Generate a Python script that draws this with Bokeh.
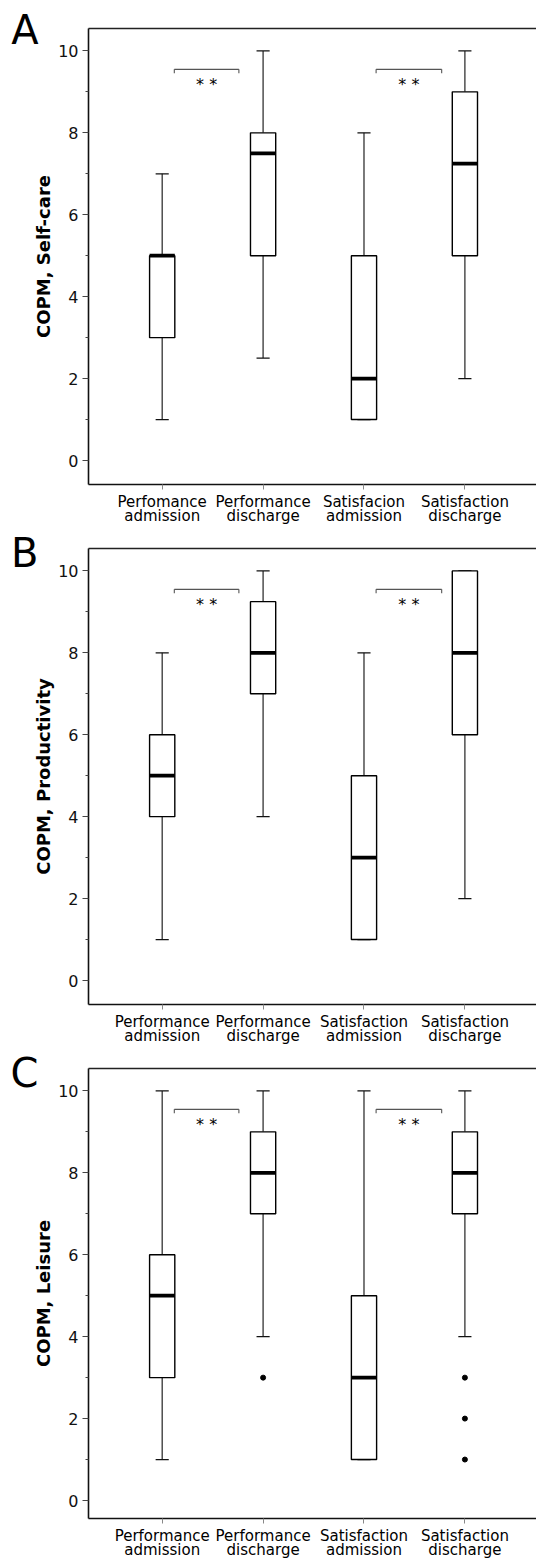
from bokeh.plotting import figure
from bokeh.layouts import column
from bokeh.models import Range1d, FixedTicker, LinearAxis, ColumnDataSource
from bokeh.embed import file_html
from bokeh.resources import INLINE
from bokeh.core.properties import value

# ---------------- data ----------------
positions = [1, 2, 3, 4]
labels_top_A = ["Perfomance", "Performance", "Satisfacion", "Satisfaction"]
labels_top_BC = ["Performance", "Performance", "Satisfaction", "Satisfaction"]
labels_bottom = ["admission", "discharge", "admission", "discharge"]

# Panel A: Self-care
a_low = [1, 2.5, 1, 2]
a_q1 = [3, 5, 1, 5]
a_med = [5, 7.5, 2, 7.25]
a_q3 = [5, 8, 5, 9]
a_high = [7, 10, 8, 10]

# Panel B: Productivity
b_low = [1, 4, 1, 2]
b_q1 = [4, 7, 1, 6]
b_med = [5, 8, 3, 8]
b_q3 = [6, 9.25, 5, 10]
b_high = [8, 10, 8, 10]

# Panel C: Leisure
c_low = [1, 4, 1, 4]
c_q1 = [3, 7, 1, 7]
c_med = [5, 8, 3, 8]
c_q3 = [6, 9, 5, 9]
c_high = [10, 10, 10, 10]
c_out_x = [2, 4, 4, 4]
c_out_y = [3, 3, 2, 1]

# significance brackets
bracket_x0 = [1.12, 3.12]
bracket_x1 = [1.76, 3.77]
bracket_y = [9.55, 9.55]
bracket_text = ["* *", "* *"]

y_ticks = [0, 2, 4, 6, 8, 10]
y_minor = [1, 3, 5, 7, 9]

# ---------------- geometry ----------------
LEFT = 88
FRAME_W = 448
X0, X1 = 0.2696, 4.7097
Y1 = 10.547
PX_X = FRAME_W / (X1 - X0)
PX_Y = 40.96
LETTER_POS = 10.51

FONT = "DejaVu Sans"
BOX_W = 0.25
CAP_W = 0.13


def panel(letter, ylabel, top_labels, low, q1, med, q3, high, frame_h, top_border,
          out_x=None, out_y=None):
    y0 = Y1 - frame_h / PX_Y
    p = figure(frame_width=FRAME_W, frame_height=frame_h,
               x_range=Range1d(X0, X1), y_range=Range1d(y0, Y1),
               output_backend="svg", toolbar_location=None,
               min_border_left=LEFT, min_border_right=0,
               min_border_top=top_border, min_border_bottom=44,
               background_fill_color="white", border_fill_color="white")
    p.outline_line_color = None
    p.xgrid.visible = False
    p.ygrid.visible = False

    # x axis with two-line category labels
    xa = p.xaxis[0]
    xa.ticker = FixedTicker(ticks=positions, minor_ticks=[])
    xa.major_label_overrides = {pos: f"{t}\n{b}" for pos, t, b in
                                zip(positions, top_labels, labels_bottom)}
    xa.major_label_text_font = FONT
    xa.major_label_text_font_size = "15px"
    xa.major_label_text_color = "black"
    xa.major_label_text_line_height = 0.8
    xa.major_label_standoff = 3
    xa.major_tick_out = 5
    xa.major_tick_in = 0
    xa.minor_tick_out = 0
    xa.minor_tick_in = 0
    xa.major_tick_line_color = "#888888"
    xa.axis_line_color = "#111111"
    xa.axis_line_width = 1.6

    # y axis
    ya = p.yaxis[0]
    ya.ticker = FixedTicker(ticks=y_ticks, minor_ticks=y_minor)
    ya.major_tick_out = 6
    ya.major_tick_in = 0
    ya.minor_tick_out = 3
    ya.minor_tick_in = 0
    ya.major_tick_line_color = "#444444"
    ya.minor_tick_line_color = "#444444"
    ya.axis_line_color = "#111111"
    ya.axis_line_width = 1.6
    ya.major_label_text_font = FONT
    ya.major_label_text_font_size = "16px"
    ya.major_label_text_color = "#111111"
    ya.major_label_standoff = 4
    ya.axis_label = ylabel
    ya.axis_label_text_font = FONT
    ya.axis_label_text_font_size = "18px"
    ya.axis_label_text_font_style = "bold"
    ya.axis_label_text_color = "black"
    ya.axis_label_standoff = 1

    # panel letter as an outer left axis label
    la = LinearAxis(ticker=FixedTicker(ticks=[LETTER_POS], minor_ticks=[]),
                    major_label_overrides={LETTER_POS: letter},
                    major_label_text_font=FONT,
                    major_label_text_font_size="40px",
                    major_label_text_color="black",
                    major_label_standoff=-8,
                    major_tick_out=0, major_tick_in=0,
                    minor_tick_out=0, minor_tick_in=0,
                    axis_line_color=None, major_tick_line_color=None,
                    minor_tick_line_color=None)
    p.add_layout(la, "left")

    # top frame line
    top = LinearAxis(ticker=FixedTicker(ticks=[], minor_ticks=[]),
                     major_tick_out=0, major_tick_in=0,
                     minor_tick_out=0, minor_tick_in=0,
                     major_label_text_font_size="1px",
                     axis_line_color="#222222", axis_line_width=1.6)
    p.add_layout(top, "above")

    src = ColumnDataSource(dict(
        x=positions, low=low, q1=q1, med=med, q3=q3, high=high,
        cap_l=[x - CAP_W / 2 for x in positions],
        cap_r=[x + CAP_W / 2 for x in positions],
        box_l=[x - BOX_W / 2 for x in positions],
        box_r=[x + BOX_W / 2 for x in positions],
    ))
    # whiskers
    p.segment(x0="x", y0="q3", x1="x", y1="high", source=src,
              line_color="#333333", line_width=1.3)
    p.segment(x0="x", y0="q1", x1="x", y1="low", source=src,
              line_color="#333333", line_width=1.3)
    p.segment(x0="cap_l", y0="high", x1="cap_r", y1="high", source=src,
              line_color="#111111", line_width=1.3)
    p.segment(x0="cap_l", y0="low", x1="cap_r", y1="low", source=src,
              line_color="#111111", line_width=1.3)
    # boxes
    p.vbar(x="x", width=BOX_W, top="q3", bottom="q1", source=src,
           fill_color="white", line_color="black", line_width=1.4)
    # medians
    p.segment(x0="box_l", y0="med", x1="box_r", y1="med", source=src,
              line_color="black", line_width=3.8, line_cap="butt")

    if out_x is not None:
        p.scatter(x=out_x, y=out_y, size=5, color="black")

    # significance brackets
    bsrc = ColumnDataSource(dict(
        x0=bracket_x0, x1=bracket_x1, y=bracket_y,
        yt=[y - 4 / PX_Y for y in bracket_y],
        xm=[(a + b) / 2 for a, b in zip(bracket_x0, bracket_x1)],
        ys=[y - 15.5 / PX_Y for y in bracket_y],
        text=bracket_text,
    ))
    p.segment(x0="x0", y0="y", x1="x1", y1="y", source=bsrc,
              line_color="#555555", line_width=1.1)
    p.segment(x0="x0", y0="y", x1="x0", y1="yt", source=bsrc,
              line_color="#555555", line_width=1.1)
    p.segment(x0="x1", y0="y", x1="x1", y1="yt", source=bsrc,
              line_color="#555555", line_width=1.1)
    p.text(x="xm", y="ys", text="text", source=bsrc,
           text_align="center", text_baseline="alphabetic",
           text_font=value(FONT), text_font_size="16px", text_color="black")
    return p


pA = panel("A", "COPM, Self-care", labels_top_A,
           a_low, a_q1, a_med, a_q3, a_high, 456, 28)
pB = panel("B", "COPM, Productivity", labels_top_BC,
           b_low, b_q1, b_med, b_q3, b_high, 456, 20)
pC = panel("C", "COPM, Leisure", labels_top_BC,
           c_low, c_q1, c_med, c_q3, c_high, 450, 20,
           out_x=c_out_x, out_y=c_out_y)

layout = column(pA, pB, pC, spacing=0)
open("out.html", "w").write(file_html(layout, INLINE))
